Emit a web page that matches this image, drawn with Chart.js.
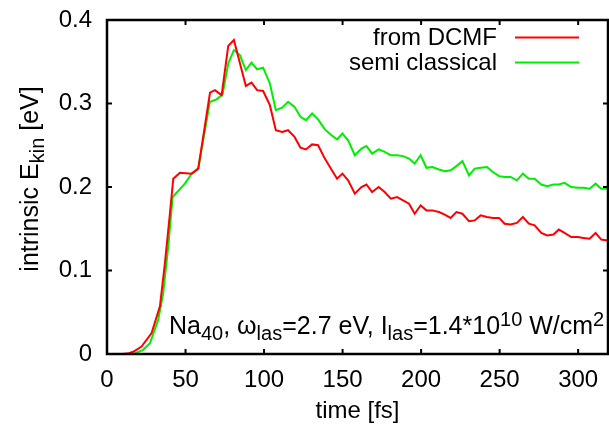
<!DOCTYPE html>
<html>
<head>
<meta charset="utf-8">
<script src="https://cdn.jsdelivr.net/npm/chart.js@4.4.1/dist/chart.umd.min.js"></script>
<style>
html,body{margin:0;padding:0;background:#fff;}
#wrap{width:609px;height:430px;position:relative;}
</style>
</head>
<body>
<div id="wrap"><canvas id="c" width="609" height="430"></canvas></div>
<script>
// ---- data ----
const dcmfTime = [10,14,17,22,28.4,33.7,36.9,40.1,42.2,46.4,53.9,58.1,65.6,68.7,73,77.2,80.8,88.4,92,95.6,99.4,103.7,107.5,111.5,115.3,119.4,123.2,126.6,130.6,134.4,138.7,142.9,146.5,149.9,153.5,157.8,162.0,165.2,168.8,173.0,176.8,180.7,184.7,188.5,192.3,195.9,199.7,203.4,207.2,211.4,215.0,218.8,222.5,226.3,230.5,234.1,237.9,241.9,245.7,249.6,253.2,257.0,261.0,264.8,268.6,272.3,276.5,280.3,284.3,287.7,291.3,295.6,299.8,303.4,307.3,311.1,314.7,318.7];
const dcmfValues = [0,0.001,0.003,0.009,0.025,0.057,0.109,0.169,0.210,0.217,0.216,0.222,0.313,0.316,0.310,0.369,0.376,0.321,0.325,0.316,0.315,0.298,0.268,0.266,0.268,0.260,0.247,0.245,0.251,0.250,0.234,0.221,0.210,0.216,0.208,0.192,0.200,0.203,0.194,0.200,0.194,0.186,0.188,0.184,0.180,0.168,0.178,0.172,0.172,0.170,0.167,0.163,0.170,0.168,0.159,0.160,0.166,0.164,0.163,0.163,0.156,0.155,0.157,0.164,0.156,0.154,0.145,0.142,0.143,0.149,0.145,0.140,0.140,0.139,0.138,0.145,0.137,0.136];

const semiTime = [10,17,23,27.4,32.6,35.8,39,41.8,49.6,53.9,58.1,65.5,69.8,73.6,77.2,80.8,84.6,88.4,92,95.6,99.4,103.7,107.5,111.5,115.3,119.4,123.2,126.6,130.6,134.4,138.7,142.9,146.5,149.9,153.5,157.8,162.0,165.2,168.8,173.0,176.8,180.7,184.7,188.5,192.3,195.9,199.7,203.4,207.2,211.4,215.0,218.8,222.5,226.3,230.5,234.1,237.9,241.9,245.7,249.6,253.2,257.0,261.0,264.8,268.6,272.3,276.5,280.3,284.3,287.7,291.3,295.6,299.8,303.4,307.3,311.1,314.7,318.7];
const semiValues = [0,0,0.005,0.013,0.041,0.073,0.129,0.188,0.204,0.216,0.222,0.302,0.305,0.311,0.348,0.364,0.358,0.340,0.349,0.341,0.343,0.324,0.292,0.295,0.302,0.296,0.284,0.280,0.288,0.281,0.269,0.262,0.257,0.264,0.256,0.238,0.246,0.249,0.240,0.245,0.242,0.238,0.238,0.237,0.234,0.228,0.238,0.223,0.224,0.221,0.219,0.220,0.225,0.231,0.214,0.222,0.223,0.224,0.218,0.213,0.212,0.212,0.208,0.216,0.210,0.210,0.203,0.201,0.203,0.203,0.205,0.200,0.199,0.199,0.198,0.204,0.198,0.198];

const seriesLabels = ["from DCMF", "semi classical"];
const xTicks = [0,50,100,150,200,250,300];
const yTicks = [0,0.1,0.2,0.3,0.4];
const xRange = [0, 319];
const yRange = [0, 0.4];

const FONT = '"Liberation Sans", Arial, Helvetica, sans-serif';

function toPoints(t, v){ return t.map((x,i)=>({x:x, y:v[i]})); }

function richWidth(ctx, parts){
  let w=0;
  parts.forEach(p=>{ctx.font = p.s+'px '+FONT; w += ctx.measureText(p.t).width;});
  return w;
}
function drawRich(ctx, x, y, parts){
  let cx = x;
  parts.forEach(p=>{
    ctx.font = p.s+'px '+FONT;
    ctx.fillText(p.t, cx, y + (p.dy||0));
    cx += ctx.measureText(p.t).width;
  });
}

const overlay = {
  id:'overlay',
  afterDraw(chart){
    const ctx = chart.ctx, a = chart.chartArea, xs = chart.scales.x, ys = chart.scales.y;
    ctx.save();
    // ticks (inward, mirrored)
    ctx.strokeStyle = '#000';
    ctx.lineWidth = 2;
    ctx.beginPath();
    xTicks.forEach(v=>{
      const p = xs.getPixelForValue(v);
      ctx.moveTo(p, a.bottom); ctx.lineTo(p, a.bottom-5);
      ctx.moveTo(p, a.top); ctx.lineTo(p, a.top+5);
    });
    yTicks.forEach(v=>{
      const p = ys.getPixelForValue(v);
      ctx.moveTo(a.left, p); ctx.lineTo(a.left+5, p);
      ctx.moveTo(a.right, p); ctx.lineTo(a.right-5, p);
    });
    ctx.stroke();
    // border
    ctx.lineWidth = 2.5;
    ctx.strokeRect(a.left, a.top, a.right-a.left, a.bottom-a.top);

    ctx.fillStyle = '#000';

    // legend
    const legY = [37.5, 62.5];
    chart.data.datasets.forEach((ds,i)=>{
      ctx.font = '24px '+FONT;
      ctx.textAlign = 'right';
      ctx.textBaseline = 'middle';
      ctx.fillText(ds.label, 497, legY[i]+1);
      ctx.strokeStyle = ds.borderColor;
      ctx.lineWidth = 2;
      ctx.beginPath();
      ctx.moveTo(515, legY[i]); ctx.lineTo(579, legY[i]);
      ctx.stroke();
    });
    ctx.textAlign = 'left';
    ctx.textBaseline = 'alphabetic';

    // annotation
    const ann = [
      {t:'Na', s:25},{t:'40', s:20, dy:6},{t:', \u03C9', s:25},{t:'las', s:20, dy:6},
      {t:'=2.7 eV, I', s:25},{t:'las', s:20, dy:6},{t:'=1.4*10', s:25},{t:'10', s:20, dy:-8},
      {t:' W/cm', s:25},{t:'2', s:20, dy:-8}
    ];
    drawRich(ctx, 169, 334, ann);

    // y title
    const yt = [{t:'intrinsic E', s:25},{t:'kin', s:20, dy:6},{t:' [eV]', s:25}];
    const w = richWidth(ctx, yt);
    ctx.translate(38, 179);
    ctx.rotate(-Math.PI/2);
    drawRich(ctx, -w/2, 0, yt);
    ctx.restore();
  }
};

new Chart(document.getElementById('c'), {
  type: 'line',
  data: {
    datasets: [
      {label: seriesLabels[0], data: toPoints(dcmfTime, dcmfValues), borderColor: '#ff0000', borderWidth: 2, pointRadius: 0, tension: 0, fill: false},
      {label: seriesLabels[1], data: toPoints(semiTime, semiValues), borderColor: '#00ee00', borderWidth: 2, pointRadius: 0, tension: 0, fill: false}
    ]
  },
  options: {
    responsive: false,
    animation: false,
    devicePixelRatio: 1,
    layout: {padding: {top: 20, right: 1, left: 0, bottom: 0}},
    plugins: {legend: {display: false}, tooltip: {enabled: false}},
    scales: {
      x: {
        type: 'linear', min: xRange[0], max: xRange[1],
        grid: {display: false, drawTicks: false},
        border: {display: false},
        ticks: {color: '#000', font: {size: 24, family: FONT}, padding: 12, maxRotation: 0, autoSkip: false},
        afterBuildTicks: s => { s.ticks = xTicks.map(v=>({value:v})); },
        afterFit: s => { s.height = 76; s.paddingLeft = 0; s.paddingRight = 0; },
        title: {display: true, text: 'time [fs]', color: '#000', font: {size: 24, family: FONT}, padding: {top: 0, bottom: 4}}
      },
      y: {
        type: 'linear', min: yRange[0], max: yRange[1],
        grid: {display: false, drawTicks: false},
        border: {display: false},
        ticks: {color: '#000', font: {size: 24, family: FONT}, padding: 15, autoSkip: false},
        afterBuildTicks: s => { s.ticks = yTicks.map(v=>({value:v})); },
        afterFit: s => { s.width = 107; s.paddingTop = 0; s.paddingBottom = 0; }
      }
    }
  },
  plugins: [overlay]
});
</script>
</body>
</html>
